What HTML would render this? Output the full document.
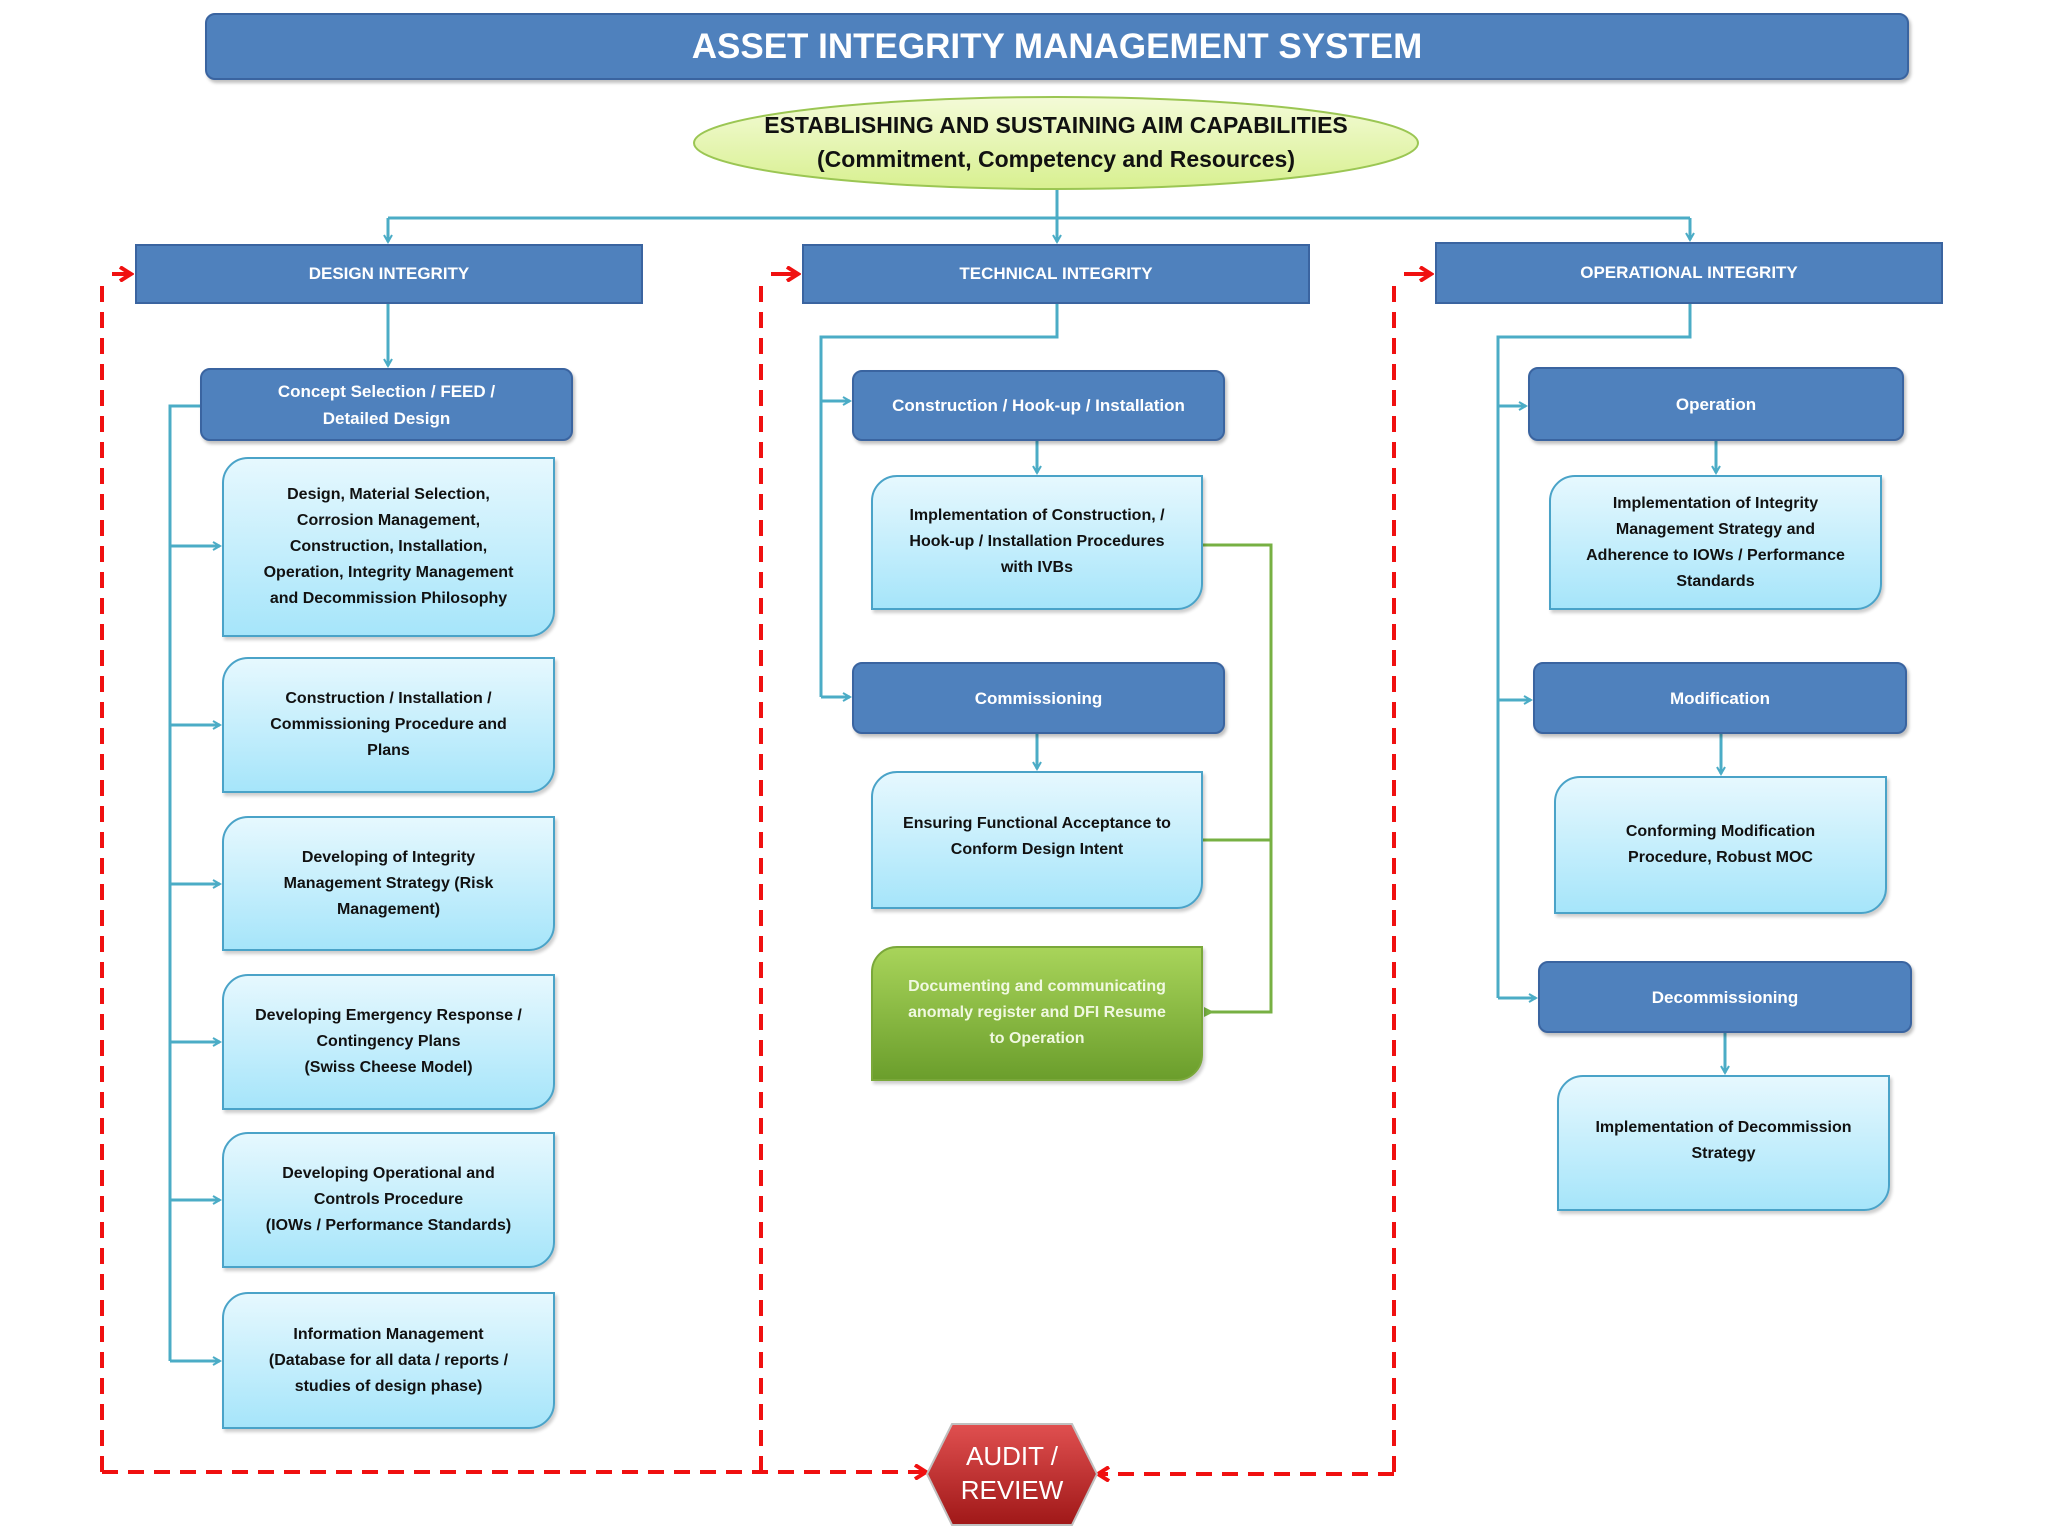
<!DOCTYPE html>
<html><head><meta charset="utf-8"><style>
body{margin:0;width:2048px;height:1536px;background:#fff;position:relative;overflow:hidden;font-family:"Liberation Sans",sans-serif}
.a{position:absolute;box-sizing:border-box;display:flex;align-items:center;justify-content:center;text-align:center}
.hd{background:#4f81bd;border:2px solid #3a64a0;color:#fff;font-weight:bold;font-size:17px}
.bb{background:#4f81bd;border:2px solid #3a64a0;color:#fff;font-weight:bold;font-size:17px;border-radius:10px;box-shadow:2px 3px 3px rgba(0,0,0,.25);line-height:27px}
.lb{background:linear-gradient(#e6f8fe,#a6e5fa);border:2px solid #4aa3c8;color:#111;font-weight:bold;font-size:16px;line-height:26px;border-radius:26px 0 26px 0;box-shadow:2px 3px 3px rgba(0,0,0,.2);padding:0 4px;white-space:nowrap}
</style></head><body>
<svg width="2048" height="1536" style="position:absolute;left:0;top:0">
<defs>
<marker id="bl" markerWidth="10" markerHeight="10" refX="8" refY="5" orient="auto" markerUnits="userSpaceOnUse"><path d="M1,1 L8,5 L1,9" fill="none" stroke="#4bacc6" stroke-width="2"/></marker>
<marker id="gr" markerWidth="12" markerHeight="12" refX="9" refY="6" orient="auto" markerUnits="userSpaceOnUse"><path d="M0,6 L10,1 L10,11z" fill="#77b043"/></marker>
<marker id="rd" markerWidth="16" markerHeight="16" refX="12" refY="8" orient="auto" markerUnits="userSpaceOnUse"><path d="M2,1 L13,8 L2,15" fill="none" stroke="#f01010" stroke-width="4"/></marker>
<linearGradient id="rg" x1="0" y1="0" x2="0" y2="1"><stop offset="0" stop-color="#e05050"/><stop offset="1" stop-color="#a01818"/></linearGradient>
<linearGradient id="eg" x1="0" y1="0" x2="0" y2="1"><stop offset="0" stop-color="#f4fbd8"/><stop offset="1" stop-color="#d8f090"/></linearGradient>
</defs>
<g stroke="#4bacc6" stroke-width="3" fill="none">
<path d="M1057 189 V218"/>
<path d="M388 218 H1690"/>
<path d="M388 218 V242" marker-end="url(#bl)"/>
<path d="M1057 218 V242" marker-end="url(#bl)"/>
<path d="M1690 218 V240" marker-end="url(#bl)"/>
<path d="M388 304 V366" marker-end="url(#bl)"/>
<path d="M200 406 H170 V1361"/>
<path d="M170 546 H220" marker-end="url(#bl)"/>
<path d="M170 725 H220" marker-end="url(#bl)"/>
<path d="M170 884 H220" marker-end="url(#bl)"/>
<path d="M170 1042 H220" marker-end="url(#bl)"/>
<path d="M170 1200 H220" marker-end="url(#bl)"/>
<path d="M170 1361 H220" marker-end="url(#bl)"/>
<path d="M1057 304 V337 H821 V697"/>
<path d="M821 401 H850" marker-end="url(#bl)"/>
<path d="M821 697 H850" marker-end="url(#bl)"/>
<path d="M1037 441 V473" marker-end="url(#bl)"/>
<path d="M1037 734 V769" marker-end="url(#bl)"/>
<path d="M1690 304 V337 H1498 V998"/>
<path d="M1498 406 H1526" marker-end="url(#bl)"/>
<path d="M1498 700 H1531" marker-end="url(#bl)"/>
<path d="M1498 998 H1536" marker-end="url(#bl)"/>
<path d="M1716 441 V473" marker-end="url(#bl)"/>
<path d="M1721 734 V774" marker-end="url(#bl)"/>
<path d="M1725 1033 V1073" marker-end="url(#bl)"/>
</g>
<g stroke="#77b043" stroke-width="3" fill="none">
<path d="M1203 545 H1271 V1012 H1205" marker-end="url(#gr)"/>
<path d="M1203 840 H1271"/>
</g>
<g stroke="#f01010" stroke-width="4" fill="none" stroke-dasharray="16 10">
<path d="M102 1472 V280"/>
<path d="M761 1472 V280"/>
<path d="M1394 1472 V280"/>
<path d="M102 1472 H925" marker-end="url(#rd)"/>
<path d="M1394 1474 H1099" marker-end="url(#rd)"/>
</g>
<g stroke="#f01010" stroke-width="4" fill="none">
<path d="M112 274 H130" marker-end="url(#rd)"/>
<path d="M771 274 H797" marker-end="url(#rd)"/>
<path d="M1404 274 H1430" marker-end="url(#rd)"/>
</g>
<ellipse cx="1056" cy="143" rx="362" ry="46" fill="url(#eg)" stroke="#9bc653" stroke-width="2"/>
<polygon points="952,1424 1072,1424 1097,1474 1072,1525 952,1525 927,1474" fill="url(#rg)" stroke="#c0c0c0" stroke-width="2"/>
<text x="1012" y="1465" fill="#fff" font-family="Liberation Sans" font-size="26" text-anchor="middle">AUDIT /</text>
<text x="1012" y="1499" fill="#fff" font-family="Liberation Sans" font-size="26" text-anchor="middle">REVIEW</text>
<text x="1056" y="133" fill="#111" font-family="Liberation Sans" font-weight="bold" font-size="23" text-anchor="middle">ESTABLISHING AND SUSTAINING AIM CAPABILITIES</text>
<text x="1056" y="167" fill="#111" font-family="Liberation Sans" font-weight="bold" font-size="23" text-anchor="middle">(Commitment, Competency and Resources)</text>
</svg>
<div class="a" style="left:205px;top:13px;width:1704px;height:67px;background:#4f81bd;border:2px solid #3a64a0;border-radius:10px;color:#fff;font-size:35px;font-weight:bold;box-shadow:2px 3px 3px rgba(0,0,0,.25)">ASSET INTEGRITY MANAGEMENT SYSTEM</div>

<div class="a hd" style="left:135px;top:244px;width:508px;height:60px">DESIGN INTEGRITY</div>
<div class="a hd" style="left:802px;top:244px;width:508px;height:60px">TECHNICAL INTEGRITY</div>
<div class="a hd" style="left:1435px;top:242px;width:508px;height:62px">OPERATIONAL INTEGRITY</div>

<div class="a bb" style="left:200px;top:368px;width:373px;height:73px">Concept Selection / FEED /<br>Detailed Design</div>
<div class="a lb" style="left:222px;top:457px;width:333px;height:180px">Design, Material Selection,<br>Corrosion Management,<br>Construction, Installation,<br>Operation, Integrity Management<br>and Decommission Philosophy</div>
<div class="a lb" style="left:222px;top:657px;width:333px;height:136px">Construction / Installation /<br>Commissioning Procedure and<br>Plans</div>
<div class="a lb" style="left:222px;top:816px;width:333px;height:135px">Developing of Integrity<br>Management Strategy (Risk<br>Management)</div>
<div class="a lb" style="left:222px;top:974px;width:333px;height:136px">Developing Emergency Response /<br>Contingency Plans<br>(Swiss Cheese Model)</div>
<div class="a lb" style="left:222px;top:1132px;width:333px;height:136px">Developing Operational and<br>Controls Procedure<br>(IOWs / Performance Standards)</div>
<div class="a lb" style="left:222px;top:1292px;width:333px;height:137px">Information Management<br>(Database for all data / reports /<br>studies of design phase)</div>

<div class="a bb" style="left:852px;top:370px;width:373px;height:71px">Construction / Hook-up / Installation</div>
<div class="a lb" style="left:871px;top:475px;width:332px;height:135px;align-items:flex-start;padding-top:26px">Implementation of Construction, /<br>Hook-up / Installation Procedures<br>with IVBs</div>
<div class="a bb" style="left:852px;top:662px;width:373px;height:72px">Commissioning</div>
<div class="a lb" style="left:871px;top:771px;width:332px;height:138px;align-items:flex-start;padding-top:38px">Ensuring Functional Acceptance to<br>Conform Design Intent</div>
<div class="a lb" style="left:871px;top:946px;width:332px;height:135px;background:linear-gradient(#a8d45a,#6b9e2c);border-color:#7aa83a;color:#f0f8e0;align-items:flex-start;padding-top:26px">Documenting and communicating<br>anomaly register and DFI Resume<br>to Operation</div>

<div class="a bb" style="left:1528px;top:367px;width:376px;height:74px">Operation</div>
<div class="a lb" style="left:1549px;top:475px;width:333px;height:135px">Implementation of Integrity<br>Management Strategy and<br>Adherence to IOWs / Performance<br>Standards</div>
<div class="a bb" style="left:1533px;top:662px;width:374px;height:72px">Modification</div>
<div class="a lb" style="left:1554px;top:776px;width:333px;height:138px">Conforming Modification<br>Procedure, Robust MOC</div>
<div class="a bb" style="left:1538px;top:961px;width:374px;height:72px">Decommissioning</div>
<div class="a lb" style="left:1557px;top:1075px;width:333px;height:136px;align-items:flex-start;padding-top:38px">Implementation of Decommission<br>Strategy</div>
</body></html>
